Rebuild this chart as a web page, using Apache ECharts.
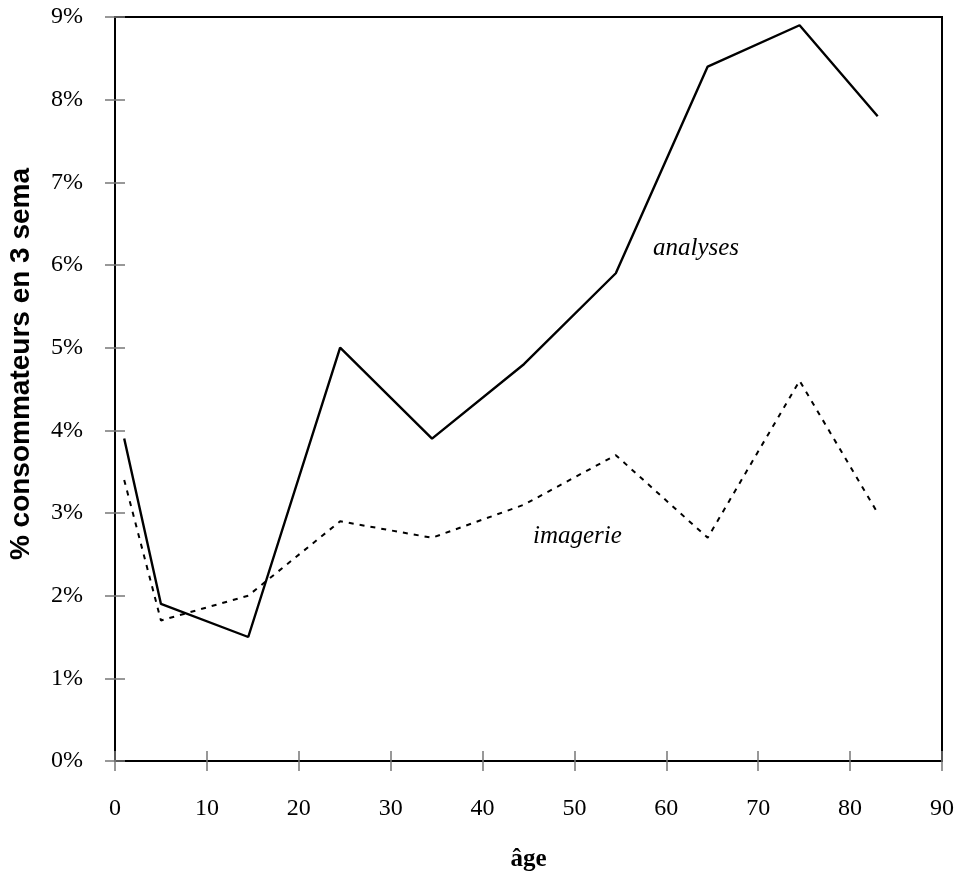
<!DOCTYPE html>
<html>
<head>
<meta charset="utf-8">
<script src="https://cdn.jsdelivr.net/npm/echarts@6/dist/echarts.min.js"></script>
<style>
  html, body { margin: 0; padding: 0; background: #fff; }
  #main { width: 957px; height: 877px; }
</style>
</head>
<body>
<div id="main"></div>
<script>
// ages (x) and percentages (y)
var ages = [1, 5, 14.5, 24.5, 34.5, 44.5, 54.5, 64.5, 74.5, 83];
var analyses = [3.9, 1.9, 1.5, 5.0, 3.9, 4.8, 5.9, 8.4, 8.9, 7.8];
var imagerie = [3.4, 1.7, 2.0, 2.9, 2.7, 3.1, 3.7, 2.7, 4.6, 3.0];

function pairs(xs, ys) {
  return xs.map(function (x, i) { return [x, ys[i]]; });
}

var chartDom = document.getElementById('main');
var myChart = echarts.init(chartDom);
var serif = '"Liberation Serif", "Times New Roman", serif';
var sans = '"Liberation Sans", Arial, sans-serif';

var baseX = {
  type: 'value', min: 0, max: 90, interval: 10,
  axisLine: { show: true, onZero: false, lineStyle: { color: '#000', width: 2 } },
  splitLine: { show: false }
};
var baseY = {
  type: 'value', min: 0, max: 9, interval: 1,
  axisLine: { show: true, onZero: false, lineStyle: { color: '#000', width: 2 } },
  splitLine: { show: false }
};

var option = {
  animation: false,
  backgroundColor: '#fff',
  grid: {
    left: 115, right: 13, top: 17, bottom: 113,
    show: true, borderColor: '#000', borderWidth: 2
  },
  xAxis: [
    Object.assign({}, baseX, {
      name: 'âge', nameLocation: 'middle', nameGap: 86,
      nameTextStyle: { fontFamily: serif, fontWeight: 'bold', fontSize: 25, color: '#000' },
      axisTick: { show: true, length: 10, lineStyle: { color: '#777', width: 1.5 } },
      axisLabel: { margin: 36, fontFamily: serif, fontSize: 24, color: '#000' }
    }),
    Object.assign({}, baseX, {
      position: 'bottom',
      axisTick: { show: true, inside: true, length: 10, lineStyle: { color: '#777', width: 1.5 } },
      axisLabel: { show: false }
    })
  ],
  yAxis: [
    Object.assign({}, baseY, {
      axisTick: { show: true, length: 10, lineStyle: { color: '#777', width: 1.5 } },
      axisLabel: { margin: 32, fontFamily: serif, fontSize: 24, color: '#000',
        formatter: function (v) { return v + '%'; } }
    }),
    Object.assign({}, baseY, {
      position: 'left',
      axisTick: { show: true, inside: true, length: 10, lineStyle: { color: '#777', width: 1.5 } },
      axisLabel: { show: false }
    })
  ],
  graphic: [
    // y axis title (its own text so it can sit a little above the plot's middle)
    { type: 'text', x: 21, y: 364, rotation: Math.PI / 2,
      style: { text: '% consommateurs en 3 sema', font: 'bold 28px ' + sans, fill: '#000',
        align: 'center', verticalAlign: 'middle' } },
    { type: 'text', left: 653, top: 236,
      style: { text: 'analyses', font: 'italic 25px ' + serif, fill: '#000' } },
    { type: 'text', left: 533, top: 524,
      style: { text: 'imagerie', font: 'italic 25px ' + serif, fill: '#000' } }
  ],
  series: [
    {
      name: 'analyses', type: 'line', data: pairs(ages, analyses),
      showSymbol: false, lineStyle: { color: '#000', width: 2.4 }
    },
    {
      name: 'imagerie', type: 'line', data: pairs(ages, imagerie),
      showSymbol: false, lineStyle: { color: '#000', width: 2, type: [5, 6] }
    }
  ]
};

option && myChart.setOption(option);
</script>
</body>
</html>
